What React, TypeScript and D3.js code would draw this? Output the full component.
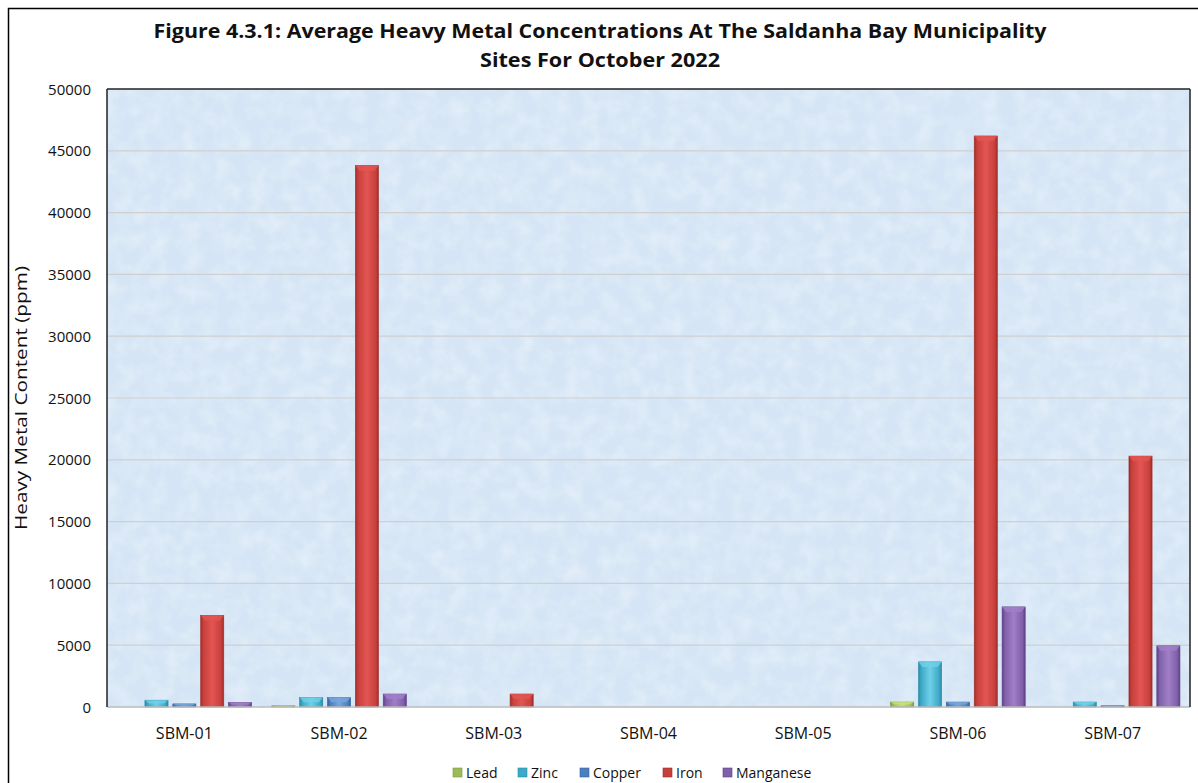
import React from "react";
import * as d3 from "d3";

const categories = ["SBM-01", "SBM-02", "SBM-03", "SBM-04", "SBM-05", "SBM-06", "SBM-07"];
const seriesNames = ["Lead", "Zinc", "Copper", "Iron", "Manganese"];
const lead = [0, 100, 0, 0, 0, 400, 0];
const zinc = [550, 780, 0, 0, 0, 3650, 400];
const copper = [250, 780, 0, 0, 0, 400, 100];
const iron = [7400, 43800, 1050, 0, 0, 46200, 20300];
const manganese = [380, 1050, 0, 0, 0, 8100, 4950];
const yTicks = [0, 5000, 10000, 15000, 20000, 25000, 30000, 35000, 40000, 45000, 50000];
const titleLines = [
  "Figure 4.3.1: Average Heavy Metal Concentrations At The Saldanha Bay Municipality",
  "Sites For October 2022",
];
const yTitle = "Heavy Metal Content (ppm)";

const seriesValues = [lead, zinc, copper, iron, manganese];
const colors = [
  { base: "#9bbb59", light: "#c8e07a", dark: "#7a9a3a" },
  { base: "#3eaac6", light: "#6fd0e8", dark: "#2a8aa6" },
  { base: "#4a7fc0", light: "#78a6dc", dark: "#34649e" },
  { base: "#c8403c", light: "#e25552", dark: "#9e2e2b" },
  { base: "#8060a8", light: "#a07fc8", dark: "#603f88" },
];

export default function App() {
  const W = 1198, H = 783;
  const left = 107, right = 1190, top = 89, bottom = 707;
  const x0 = d3.scaleBand<string>().domain(categories).range([left, right]).paddingInner(0.13).paddingOuter(0.065);
  const x1 = d3.scaleBand<string>().domain(seriesNames).range([0, x0.bandwidth()]).paddingInner(0.17);
  const y = d3.scaleLinear().domain([0, 50000]).range([bottom, top]);
  const font = "'Open Sans', 'Noto Sans', sans-serif";

  const legendX = [453, 518, 580, 663, 723];

  return (
    <svg width={W} height={H} style={{ position: "absolute", left: 0, top: 0 }} fontFamily={font}>
      <defs>
        <filter id="tex" x="0" y="0" width="100%" height="100%">
          <feTurbulence type="fractalNoise" baseFrequency="0.06" numOctaves={3} seed={4} result="n" />
          <feColorMatrix in="n" type="matrix"
            values="0 0 0 0 1  0 0 0 0 1  0 0 0 0 1  0 0 0 -1.6 1.05" />
        </filter>
        {colors.map((c, i) => (
          <linearGradient key={i} id={`g${i}`} x1="0" x2="1" y1="0" y2="0">
            <stop offset="0" stopColor={c.dark} />
            <stop offset="0.12" stopColor={c.base} />
            <stop offset="0.5" stopColor={c.light} />
            <stop offset="0.88" stopColor={c.base} />
            <stop offset="1" stopColor={c.dark} />
          </linearGradient>
        ))}
      </defs>
      <rect x={0} y={0} width={W} height={H} fill="#fff" />
      <rect x={8.5} y={8.5} width={1200} height={800} fill="#fff" stroke="#000" strokeWidth={1.5} />
      {titleLines.map((t, i) => (
        <text key={i} x={600} y={38 + i * 29} textAnchor="middle" fontSize={19} fontWeight="bold" fill="#111"
          textLength={i === 0 ? 893 : 240} lengthAdjust="spacingAndGlyphs">{t}</text>
      ))}
      <rect x={left} y={top} width={right - left} height={bottom - top} fill="#d5e5f5" />
      <rect x={left} y={top} width={right - left} height={bottom - top} filter="url(#tex)" opacity={0.35} />
      {yTicks.map((t) => (
        <g key={t}>
          {t > 0 && t < 50000 && (
            <line x1={left} x2={right} y1={y(t)} y2={y(t)} stroke="#cfcfcf" strokeWidth={1.2} />
          )}
          <text x={91} y={y(t) + 5.5} textAnchor="end" fontSize={15} fill="#111">{t}</text>
        </g>
      ))}
      {categories.map((c, ci) => (
        <g key={c} transform={`translate(${x0(c)},0)`}>
          {seriesNames.map((s, si) => {
            const v = seriesValues[si][ci];
            if (v <= 0) return null;
            const bx = x1(s)!;
            const bw = x1.bandwidth();
            const by = y(v);
            const bh = bottom - by;
            const bev = Math.min(5, bh / 2);
            return (
              <g key={s}>
                <rect x={bx} y={by} width={bw} height={bh} fill={`url(#g${si})`} stroke={colors[si].dark} strokeWidth={0.6} />
                <polygon points={`${bx},${by} ${bx + bw},${by} ${bx + bw - 4},${by + bev} ${bx + 4},${by + bev}`} fill={colors[si].light} opacity={0.8} />
              </g>
            );
          })}
          <text x={x0.bandwidth() / 2} y={739} textAnchor="middle" fontSize={16} fill="#111">{c}</text>
        </g>
      ))}
      <line x1={left} x2={right} y1={bottom} y2={bottom} stroke="#bbb" strokeWidth={1.5} />
      <line x1={left} x2={left} y1={top} y2={bottom} stroke="#222" strokeWidth={1.5} />
      <line x1={left} x2={right} y1={top} y2={top} stroke="#222" strokeWidth={1.5} />
      <line x1={right} x2={right} y1={top} y2={bottom} stroke="#222" strokeWidth={1.5} />
      <text transform={`translate(27,398) rotate(-90)`} textAnchor="middle" fontSize={17} fill="#111"
        textLength={264} lengthAdjust="spacingAndGlyphs">{yTitle}</text>
      {seriesNames.map((s, i) => (
        <g key={s}>
          <rect x={legendX[i]} y={768} width={9} height={9} fill={colors[i].base} stroke={colors[i].dark} strokeWidth={0.6} />
          <text x={legendX[i] + 13} y={778} fontSize={14} fill="#111">{s}</text>
        </g>
      ))}
    </svg>
  );
}
